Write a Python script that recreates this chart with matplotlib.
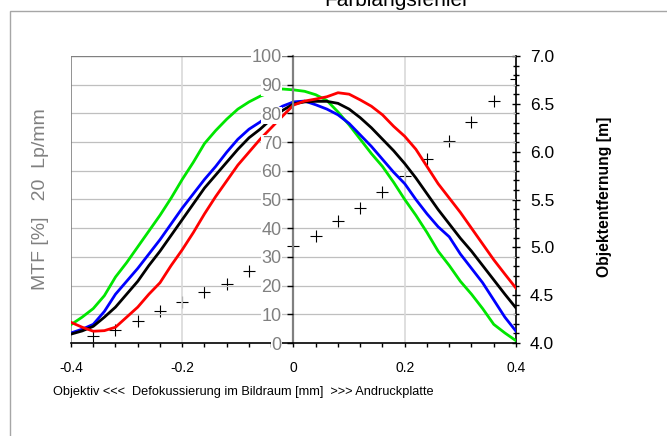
import numpy as np
import matplotlib
matplotlib.use('Agg')
import matplotlib.pyplot as plt
from matplotlib.patches import Rectangle
from matplotlib.ticker import MultipleLocator, FixedLocator

plt.rcParams['font.family'] = ['Liberation Sans', 'DejaVu Sans']

# Defokussierung [mm]
defocus = [-0.40, -0.38, -0.36, -0.34, -0.32, -0.30, -0.28, -0.26, -0.24, -0.22,
           -0.20, -0.18, -0.16, -0.14, -0.12, -0.10, -0.08, -0.06, -0.04, -0.02,
           0.00, 0.02, 0.04, 0.06, 0.08, 0.10, 0.12, 0.14, 0.16, 0.18,
           0.20, 0.22, 0.24, 0.26, 0.28, 0.30, 0.32, 0.34, 0.36, 0.38, 0.40]

# MTF [%] bei 20 Lp/mm
mtf_green = [6.4, 9, 12, 16.5, 23, 28, 33.5, 39, 44.5, 50.5,
             57, 63, 69.5, 74, 78, 81.5, 84, 86, 87.5, 88.5,
             88.2, 87.7, 86.5, 84.5, 80.5, 76, 71, 66, 61.5, 56,
             50, 44.5, 38.5, 32, 27, 21.5, 17, 12, 6.5, 3.5, 0.8]
mtf_blue = [3.5, 4.8, 6.5, 11, 17, 21.5, 26, 31, 36, 41.5,
            47, 52, 57, 61.5, 66.5, 71, 74.5, 77, 80, 82.5,
            84, 84.3, 83, 81.5, 79.5, 76.5, 72.5, 68.5, 64, 59.5,
            55.5, 50, 45, 40.5, 37, 31, 26, 21, 15, 9, 4.1]
mtf_black = [3.1, 4.2, 5.8, 9, 12.5, 17, 21.5, 27, 32, 37.5,
             43, 48.5, 54, 58.5, 63, 67.5, 71.5, 74.5, 78, 81,
             83.3, 84, 84.2, 84.2, 83.5, 81.5, 78.5, 75, 71, 67,
             62.5, 57.5, 52, 46.5, 41.5, 36.5, 32, 27, 22, 17, 12.2]
mtf_red = [7.2, 5.5, 4.1, 4.3, 5.5, 9, 12.5, 17, 21, 27,
           32.5, 38.5, 45, 51, 56.5, 62, 66.5, 71, 75, 79,
           82.9, 84.3, 85, 85.8, 87.2, 86.7, 84.7, 82.5, 79.5, 75.5,
           72, 67.5, 61.5, 55.5, 50.5, 45.5, 40, 34.5, 29, 24, 19.1]

# Objektentfernung [m]
dist_x = [-0.36, -0.32, -0.28, -0.24, -0.20, -0.16, -0.12, -0.08, -0.04,
          0.00, 0.04, 0.08, 0.12, 0.16, 0.20, 0.24, 0.28, 0.32, 0.36, 0.40]
dist_m = [4.07, 4.14, 4.23, 4.33, 4.43, 4.53, 4.62, 4.75, 4.88,
          5.01, 5.12, 5.28, 5.41, 5.58, 5.75, 5.92, 6.11, 6.31, 6.53, 6.76]

fig = plt.figure(figsize=(6.67, 4.36), dpi=100)
fig.patches.append(Rectangle((9.5 / 667, -0.1), 1.2, 1 - 11 / 436 + 0.1,
                             transform=fig.transFigure, fill=False,
                             edgecolor='#a6a6a6', lw=1))

ax = fig.add_axes([71 / 667, 93 / 436, 445 / 667, 287 / 436])
ax2 = ax.twinx()
ax2.set_zorder(ax.get_zorder() - 1)
ax.patch.set_visible(False)

# grid
for v in range(10, 100, 10):
    ax.axhline(v, color='#bfbfbf', lw=0.9, zorder=0.5)
for v in (-0.2, 0.2):
    ax.axvline(v, color='#d9d9d9', lw=1.2, zorder=0.5)
ax.axhline(100, color='#808080', lw=1, zorder=0.6)
ax.axvline(-0.4, color='#808080', lw=1.2, zorder=0.6)

ax.plot(defocus, mtf_green, color='#00e600', lw=2)
ax.plot(defocus, mtf_blue, color='#0000ff', lw=2)
ax.plot(defocus, mtf_black, color='black', lw=2)
ax.plot(defocus, mtf_red, color='#ff0000', lw=2)

ax2.plot(dist_x, dist_m, linestyle='none', marker='+', color='black',
         markersize=9, markeredgewidth=0.8)

ax.set_xlim(-0.4, 0.4)
ax.set_ylim(0, 100)
ax2.set_ylim(4.0, 7.0)

for s in ('top', 'right'):
    ax.spines[s].set_visible(False)
ax.spines['left'].set_position(('data', 0))
ax.spines['left'].set_color('#808080')
ax.spines['left'].set_linewidth(1.6)
ax.spines['bottom'].set_color('black')
ax.spines['bottom'].set_linewidth(1.2)

ax.xaxis.set_major_locator(FixedLocator([-0.4, -0.2, 0, 0.2, 0.4]))
ax.xaxis.set_minor_locator(MultipleLocator(0.04))
ax.set_xticklabels(['-0.4', '-0.2', '0', '0.2', '0.4'])
ax.tick_params(axis='x', which='both', direction='out', length=3, width=1,
               color='black', labelsize=10, pad=10)

ax.yaxis.set_major_locator(MultipleLocator(10))
ax.tick_params(axis='y', which='major', direction='out', length=4.5, width=1,
               color='black', labelcolor='#808080', labelsize=13, pad=4)
for lab in ax.get_yticklabels():
    lab.set_bbox(dict(facecolor='white', edgecolor='none', pad=0.2))
ax.yaxis.set_zorder(5)

for s in ('top', 'left', 'bottom'):
    ax2.spines[s].set_visible(False)
ax2.spines['right'].set_color('black')
ax2.spines['right'].set_linewidth(1.2)
ax2.yaxis.set_major_locator(MultipleLocator(0.5))
ax2.yaxis.set_minor_locator(MultipleLocator(0.1))
ax2.set_yticks([4.0, 4.5, 5.0, 5.5, 6.0, 6.5, 7.0])
ax2.set_yticklabels(['4.0', '4.5', '5.0', '5.5', '6.0', '6.5', '7.0'])
ax2.tick_params(axis='y', which='major', direction='inout', length=6, width=1,
                labelsize=12.5, pad=7)
ax2.tick_params(axis='y', which='minor', direction='inout', length=5, width=1)

fig.text(41 / 667, 0.5427, 'MTF [%]   20  Lp/mm', rotation=90, color='#808080',
         fontsize=14, ha='center', va='center')
fig.text(604 / 667, 0.548, 'Objektentfernung [m]', rotation=90, fontweight='bold',
         fontsize=11.3, ha='center', va='center')
fig.text(53 / 667, 1 - 392 / 436,
         'Objektiv <<<  Defokussierung im Bildraum [mm]  >>> Andruckplatte',
         fontsize=9.2, ha='left', va='center')
fig.text(397 / 667, 1 - 6 / 436, 'Farblängsfehler', fontsize=15,
         ha='center', va='baseline')

plt.savefig('out.png', dpi=100)
